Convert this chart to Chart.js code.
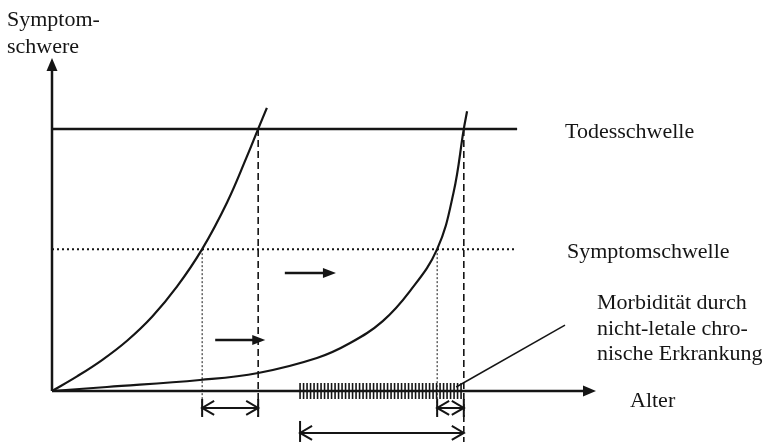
<!DOCTYPE html>
<html>
<head>
<meta charset="utf-8">
<script src="https://cdn.jsdelivr.net/npm/chart.js@4"></script>
<style>
  html, body { margin: 0; padding: 0; background: #fff; }
  canvas { display: block; }
</style>
</head>
<body>
<canvas id="chart" width="766" height="442"></canvas>
<script>
// curves: age -> symptom severity (arbitrary units 0..100)
var ageA = [0, 4.6, 9.2, 13.8, 18.4, 23.0, 27.6, 32.2, 35.8, 37.9, 39.5];
var severityA = [0, 4.4, 9.3, 15.1, 22.3, 31.4, 42.6, 56.7, 70.3, 78.7, 85];
var ageB = [0, 10.1, 27.2, 37.9, 48.7, 54.8, 60.8, 65.8, 70.8, 73.8, 75.7, 76.3];
var severityB = [0, 1.2, 3.3, 5.4, 9.9, 14.4, 21.0, 30.0, 42.6, 59.5, 78.7, 84];

var deathThreshold = 78.7;
var symptomThreshold = 42.6;
var thresholdEnd = [85.5, 85];

// onset of symptoms / death for both curves
var onsetAge = [27.6, 70.8];
var deathAge = [37.9, 75.7];
var morbidityStart = 45.6;

var thresholdLabels = ['Todesschwelle', 'Symptomschwelle'];
var yTitle = ['Symptom-', 'schwere'];
var xTitle = 'Alter';
var noteLines = ['Morbidität durch', 'nicht-letale chro-', 'nische Erkrankung'];

var ink = '#151515';
var font = '22px "Liberation Serif", "Times New Roman", serif';

function pts(xs, ys) {
    return xs.map(function (v, i) { return {x: v, y: ys[i]}; });
}

function line(data, width, dash) {
    return {
        data: data,
        showLine: true,
        borderColor: ink,
        borderWidth: width,
        borderDash: dash || [],
        pointRadius: 0,
        clip: false,
        fill: false
    };
}

var datasets = [
    line([{x: 0, y: 0}, {x: 0, y: 96.4}], 2.5),
    line([{x: 0, y: 0}, {x: 97.8, y: 0}], 2.5),
    line([{x: 0, y: deathThreshold}, {x: thresholdEnd[0], y: deathThreshold}], 2.5),
    line([{x: 0, y: symptomThreshold}, {x: thresholdEnd[1], y: symptomThreshold}], 2, [2, 3]),
    line([{x: onsetAge[0], y: symptomThreshold}, {x: onsetAge[0], y: -7.7}], 1, [2, 2]),
    line([{x: onsetAge[1], y: symptomThreshold}, {x: onsetAge[1], y: -7.7}], 1, [2, 2]),
    line([{x: deathAge[0], y: deathThreshold}, {x: deathAge[0], y: -7.7}], 1.6, [7, 4]),
    line([{x: deathAge[1], y: deathThreshold}, {x: deathAge[1], y: -15.3}], 1.6, [7, 4]),
    line([{x: 74.3, y: 1.2}, {x: 94.3, y: 19.8}], 1.5)
];
var curveA = line(pts(ageA, severityA), 2.2);
var curveB = line(pts(ageB, severityB), 2.2);
curveA.tension = 0.4;
curveB.tension = 0.4;
datasets.push(curveA, curveB);

function head(ctx, tx, ty, dir, len, half) {
    ctx.beginPath();
    ctx.moveTo(tx, ty);
    if (dir === 'up') { ctx.lineTo(tx - half, ty + len); ctx.lineTo(tx + half, ty + len); }
    else { ctx.lineTo(tx - len, ty - half); ctx.lineTo(tx - len, ty + half); }
    ctx.closePath();
    ctx.fill();
}

function chevron(ctx, tx, ty, dir) {
    ctx.beginPath();
    ctx.moveTo(tx + dir * 12, ty - 7);
    ctx.lineTo(tx, ty);
    ctx.lineTo(tx + dir * 12, ty + 7);
    ctx.stroke();
}

function span(ctx, x1, x2, y) {
    ctx.beginPath();
    ctx.moveTo(x1, y);
    ctx.lineTo(x2, y);
    ctx.stroke();
    chevron(ctx, x1, y, 1);
    chevron(ctx, x2, y, -1);
}

function bar(ctx, x, y1, y2) {
    ctx.beginPath();
    ctx.moveTo(x, y1);
    ctx.lineTo(x, y2);
    ctx.stroke();
}

var annotations = {
    id: 'annotations',
    afterDatasetsDraw: function (chart) {
        var ctx = chart.ctx;
        var sx = chart.scales.x, sy = chart.scales.y;
        var px = function (v) { return sx.getPixelForValue(v); };
        var py = function (v) { return sy.getPixelForValue(v); };
        ctx.save();
        ctx.fillStyle = ink;
        ctx.strokeStyle = ink;

        // axis arrowheads
        head(ctx, px(0), py(100), 'up', 13, 5.5);
        head(ctx, px(100), py(0), 'right', 13, 5.5);

        // shift arrows
        ctx.lineWidth = 2.5;
        [[30, 39.2, 15.3], [42.8, 52.2, 35.4]].forEach(function (a) {
            ctx.beginPath();
            ctx.moveTo(px(a[0]), py(a[2]));
            ctx.lineTo(px(a[1]) - 10, py(a[2]));
            ctx.stroke();
            head(ctx, px(a[1]), py(a[2]), 'right', 13, 5);
        });

        // morbidity hatching
        ctx.lineWidth = 1.6;
        var h0 = px(morbidityStart), h1 = px(deathAge[1]);
        for (var hx = h0; hx <= h1; hx += 3.5) {
            bar(ctx, hx, py(0) - 8, py(0) + 8);
        }

        // spans below the axis
        ctx.lineWidth = 2;
        var yRow = py(-5.1), yLow = py(-12.6);
        span(ctx, px(onsetAge[0]), px(deathAge[0]), yRow);
        span(ctx, px(onsetAge[1]), px(deathAge[1]), yRow);
        span(ctx, px(morbidityStart), px(deathAge[1]), yLow);
        bar(ctx, px(onsetAge[0]), yRow - 9, yRow + 9);
        bar(ctx, px(deathAge[0]), yRow - 9, yRow + 9);
        bar(ctx, px(onsetAge[1]), yRow - 9, yRow + 9);
        bar(ctx, px(deathAge[1]), yRow - 9, yRow + 9);
        bar(ctx, px(morbidityStart), yLow - 12, yLow + 9);

        // texts
        ctx.font = font;
        ctx.textBaseline = 'alphabetic';
        ctx.textAlign = 'left';
        ctx.fillText(yTitle[0], 7, 26);
        ctx.fillText(yTitle[1], 7, 53);
        ctx.fillText(thresholdLabels[0], 565, py(deathThreshold) + 9);
        ctx.fillText(thresholdLabels[1], 567, py(symptomThreshold) + 9);
        noteLines.forEach(function (t, i) { ctx.fillText(t, 597, 309 + i * 25.5); });
        ctx.fillText(xTitle, 630, py(0) + 16);
        ctx.restore();
    }
};

new Chart(document.getElementById('chart').getContext('2d'), {
    type: 'scatter',
    data: {datasets: datasets},
    options: {
        responsive: false,
        animation: false,
        devicePixelRatio: 1,
        layout: {padding: {left: 52, right: 170, top: 58, bottom: 51}},
        plugins: {legend: {display: false}, tooltip: {enabled: false}},
        scales: {
            x: {type: 'linear', min: 0, max: 100, display: false},
            y: {type: 'linear', min: 0, max: 100, display: false}
        }
    },
    plugins: [annotations]
});
</script>
</body>
</html>
